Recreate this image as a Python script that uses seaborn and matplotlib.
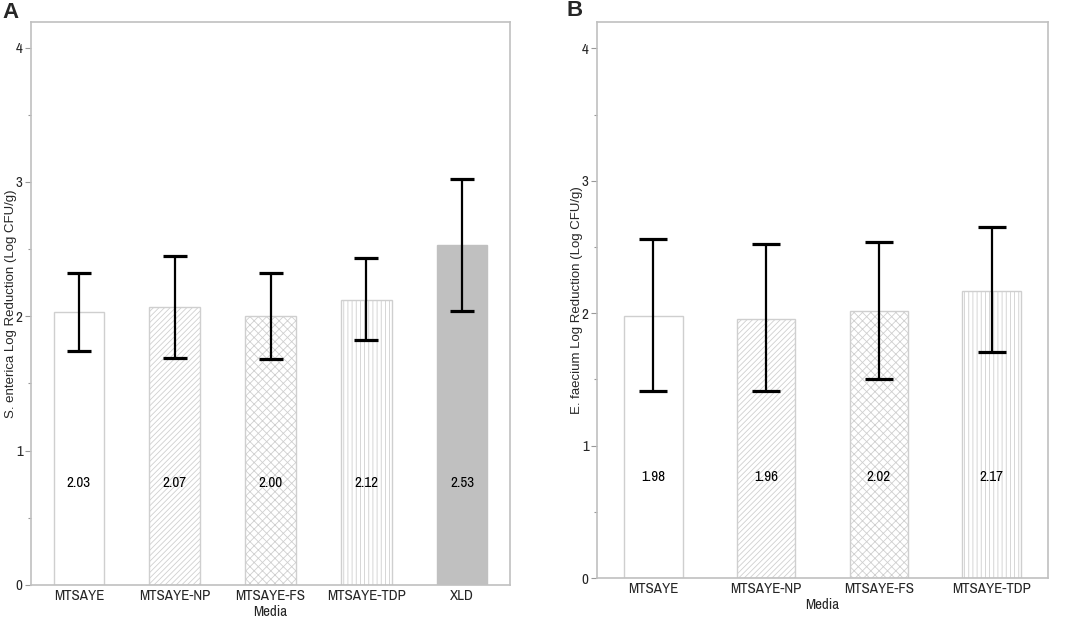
import numpy as np
import pandas as pd
import matplotlib
matplotlib.use("Agg")
import matplotlib.pyplot as plt
import seaborn as sns
from matplotlib.ticker import MultipleLocator
from matplotlib import font_manager

# ---- data ----
media_a = ["MTSAYE", "MTSAYE-NP", "MTSAYE-FS", "MTSAYE-TDP", "XLD"]
means_a = [2.03, 2.07, 2.00, 2.12, 2.53]
lower_a = [1.74, 1.69, 1.68, 1.82, 2.04]
upper_a = [2.32, 2.45, 2.32, 2.43, 3.02]

media_b = ["MTSAYE", "MTSAYE-NP", "MTSAYE-FS", "MTSAYE-TDP"]
means_b = [1.98, 1.96, 2.02, 2.17]
lower_b = [1.41, 1.41, 1.50, 1.71]
upper_b = [2.56, 2.52, 2.54, 2.65]

ylabel_a = "S. enterica Log Reduction (Log CFU/g)"
ylabel_b = "E. faecium Log Reduction (Log CFU/g)"

# find a narrow/condensed sans family if available
names = sorted({f.name for f in font_manager.fontManager.ttflist})
narrow = [n for n in names if ("Narrow" in n or "Condensed" in n) and "Mono" not in n
          and "Serif" not in n]
narrow_family = narrow[0] if narrow else "Liberation Sans"
base_size = 10.8 if narrow else 9.5

sns.set_theme(style="white")
plt.rcParams["font.family"] = [narrow_family, "Liberation Sans", "DejaVu Sans"]
plt.rcParams["hatch.color"] = "#c8c8c8"
plt.rcParams["hatch.linewidth"] = 0.6

W, H = 1072, 623
fig = plt.figure(figsize=(W / 100, H / 100), dpi=100)

def ax_rect(l, r, t, b):
    return [l / W, 1 - b / H, (r - l) / W, (b - t) / H]

ax_a = fig.add_axes(ax_rect(31, 510, 22, 585))
ax_b = fig.add_axes(ax_rect(597, 1048, 22, 578))

hatches = ["", "//////", "xxxx", "||||", ""]
fills = ["white", "white", "white", "white", "#c0c0c0"]
edge = "#cfcfcf"


def draw(ax, media, means, lower, upper, ylabel, width, capsize, ymax, ylab_x):
    df = pd.DataFrame({"Media": media, "val": means})
    sns.barplot(data=df, x="Media", y="val", ax=ax, width=width,
                color="white", edgecolor=edge, linewidth=1.0, errorbar=None)
    for i, p in enumerate(ax.patches):
        p.set_facecolor(fills[i])
        p.set_hatch(hatches[i])
        p.set_edgecolor(edge if fills[i] == "white" else fills[i])
    x = np.arange(len(media))
    m = np.array(means)
    yerr = np.vstack([m - np.array(lower), np.array(upper) - m])
    ax.errorbar(x, m, yerr=yerr, fmt="none", ecolor="black", elinewidth=1.6,
                capsize=capsize, capthick=2.3, zorder=5)
    for xi, v in zip(x, means):
        ax.text(xi, 0.76, f"{v:.2f}", ha="center", va="center", fontsize=base_size,
                color="black")
    ax.set_ylim(0, ymax)
    ax.set_xlim(-0.5, len(media) - 0.5)
    ax.yaxis.set_major_locator(MultipleLocator(1))
    ax.yaxis.set_minor_locator(MultipleLocator(0.5))
    ax.tick_params(axis="y", which="major", length=4, width=0.8, color="#999999",
                   labelsize=base_size, pad=2, left=True, direction="out")
    ax.tick_params(axis="y", which="minor", length=2.5, width=0.8, color="#999999",
                   left=True, direction="out")
    ax.tick_params(axis="x", length=0, labelsize=base_size, pad=3)
    ax.set_xlabel("Media", fontsize=base_size, labelpad=1)
    ax.set_ylabel(ylabel, fontsize=9.5, family=["Liberation Sans", "DejaVu Sans"],
                  va="center")
    ax.yaxis.set_label_coords(ylab_x, 0.5)
    for s in ax.spines.values():
        s.set_color("#c0c0c0")
        s.set_linewidth(1.2)


draw(ax_a, media_a, means_a, lower_a, upper_a, ylabel_a, 0.53, 8.6, 4.19,
     (11 - 31) / 479)
draw(ax_b, media_b, means_b, lower_b, upper_b, ylabel_b, 0.52, 10.4, 4.2,
     (577 - 597) / 451)

fig.text(2 / W, 1 - 12 / H, "A", fontsize=16, fontweight="bold", va="center",
         ha="left", family=["Liberation Sans", "DejaVu Sans"])
fig.text(567 / W, 1 - 11 / H, "B", fontsize=16, fontweight="bold", va="center",
         ha="left", family=["Liberation Sans", "DejaVu Sans"])

fig.savefig("out.png", dpi=100)
